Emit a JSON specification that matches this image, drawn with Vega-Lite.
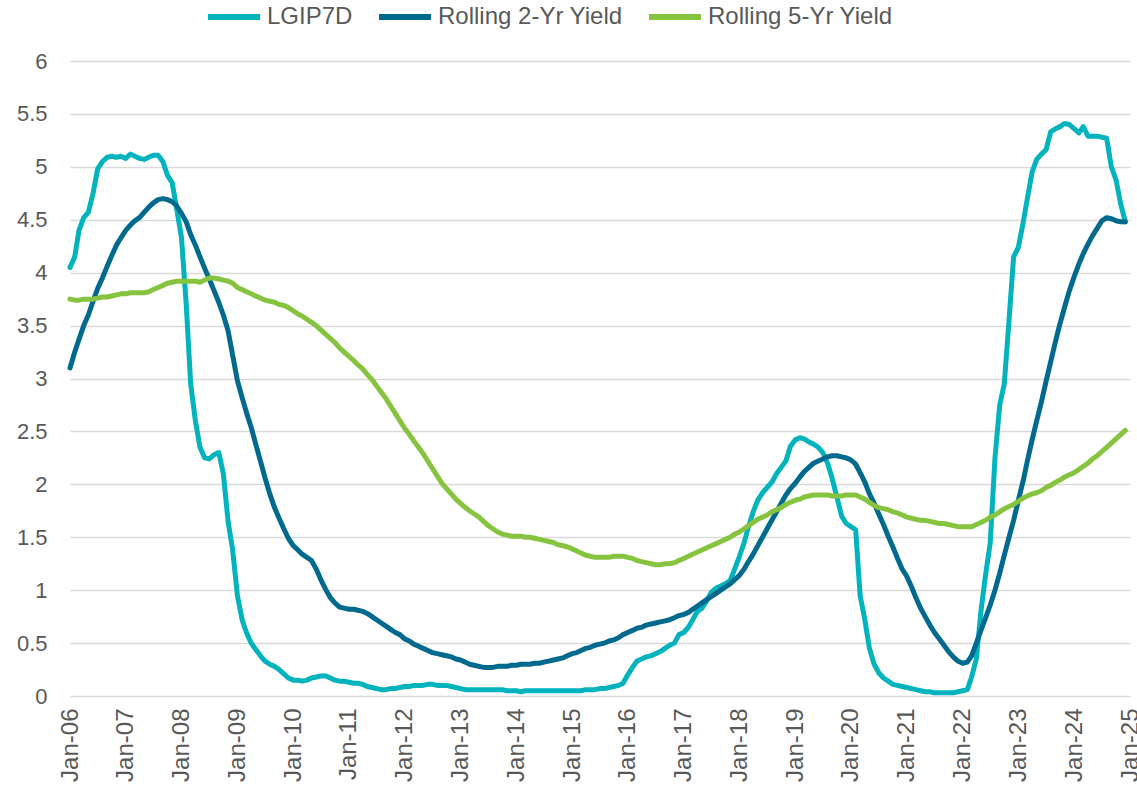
{
"$schema": "https://vega.github.io/schema/vega-lite/v6.json",
"width": 1060, "height": 635,
"autosize": {"type": "none"},
"padding": {"left": 70, "top": 61, "right": 7, "bottom": 96},
"background": "white",
"config": {"view": {"stroke": null}, "font": "Liberation Sans"},
"data": {"format": {"parse": {"d": "date:'%Y-%m'"}}, "values": [
{"d":"2006-01","lgip":4.05,"r2":3.1,"r5":3.75},{"d":"2006-02","lgip":4.15,"r2":3.25,"r5":3.74},{"d":"2006-03","lgip":4.4,"r2":3.37,"r5":3.74},{"d":"2006-04","lgip":4.52,"r2":3.5,"r5":3.75},{"d":"2006-05","lgip":4.57,"r2":3.6,"r5":3.75},{"d":"2006-06","lgip":4.75,"r2":3.73,"r5":3.75},{"d":"2006-07","lgip":4.98,"r2":3.85,"r5":3.76},{"d":"2006-08","lgip":5.05,"r2":3.95,"r5":3.77},{"d":"2006-09","lgip":5.09,"r2":4.06,"r5":3.77},{"d":"2006-10","lgip":5.1,"r2":4.16,"r5":3.78},{"d":"2006-11","lgip":5.09,"r2":4.26,"r5":3.79},{"d":"2006-12","lgip":5.1,"r2":4.33,"r5":3.8},
{"d":"2007-01","lgip":5.08,"r2":4.4,"r5":3.8},{"d":"2007-02","lgip":5.12,"r2":4.45,"r5":3.81},{"d":"2007-03","lgip":5.1,"r2":4.49,"r5":3.81},{"d":"2007-04","lgip":5.08,"r2":4.52,"r5":3.81},{"d":"2007-05","lgip":5.07,"r2":4.57,"r5":3.81},{"d":"2007-06","lgip":5.09,"r2":4.62,"r5":3.82},{"d":"2007-07","lgip":5.11,"r2":4.66,"r5":3.84},{"d":"2007-08","lgip":5.11,"r2":4.69,"r5":3.86},{"d":"2007-09","lgip":5.05,"r2":4.7,"r5":3.88},{"d":"2007-10","lgip":4.92,"r2":4.69,"r5":3.9},{"d":"2007-11","lgip":4.85,"r2":4.67,"r5":3.91},{"d":"2007-12","lgip":4.6,"r2":4.63,"r5":3.92},
{"d":"2008-01","lgip":4.33,"r2":4.56,"r5":3.92},{"d":"2008-02","lgip":3.7,"r2":4.48,"r5":3.92},{"d":"2008-03","lgip":2.95,"r2":4.36,"r5":3.92},{"d":"2008-04","lgip":2.6,"r2":4.26,"r5":3.92},{"d":"2008-05","lgip":2.35,"r2":4.15,"r5":3.91},{"d":"2008-06","lgip":2.25,"r2":4.04,"r5":3.93},{"d":"2008-07","lgip":2.24,"r2":3.94,"r5":3.95},{"d":"2008-08","lgip":2.28,"r2":3.83,"r5":3.95},{"d":"2008-09","lgip":2.3,"r2":3.72,"r5":3.94},{"d":"2008-10","lgip":2.1,"r2":3.6,"r5":3.93},{"d":"2008-11","lgip":1.65,"r2":3.45,"r5":3.92},{"d":"2008-12","lgip":1.38,"r2":3.22,"r5":3.9},
{"d":"2009-01","lgip":0.95,"r2":2.98,"r5":3.86},{"d":"2009-02","lgip":0.72,"r2":2.82,"r5":3.84},{"d":"2009-03","lgip":0.6,"r2":2.68,"r5":3.82},{"d":"2009-04","lgip":0.5,"r2":2.54,"r5":3.8},{"d":"2009-05","lgip":0.44,"r2":2.38,"r5":3.78},{"d":"2009-06","lgip":0.38,"r2":2.22,"r5":3.76},{"d":"2009-07","lgip":0.33,"r2":2.06,"r5":3.74},{"d":"2009-08","lgip":0.3,"r2":1.91,"r5":3.73},{"d":"2009-09","lgip":0.28,"r2":1.78,"r5":3.72},{"d":"2009-10","lgip":0.25,"r2":1.68,"r5":3.7},{"d":"2009-11","lgip":0.21,"r2":1.58,"r5":3.69},{"d":"2009-12","lgip":0.17,"r2":1.49,"r5":3.67},
{"d":"2010-01","lgip":0.15,"r2":1.42,"r5":3.64},{"d":"2010-02","lgip":0.15,"r2":1.38,"r5":3.61},{"d":"2010-03","lgip":0.14,"r2":1.34,"r5":3.59},{"d":"2010-04","lgip":0.15,"r2":1.31,"r5":3.56},{"d":"2010-05","lgip":0.17,"r2":1.28,"r5":3.53},{"d":"2010-06","lgip":0.18,"r2":1.2,"r5":3.5},{"d":"2010-07","lgip":0.19,"r2":1.1,"r5":3.46},{"d":"2010-08","lgip":0.19,"r2":1.01,"r5":3.42},{"d":"2010-09","lgip":0.17,"r2":0.93,"r5":3.38},{"d":"2010-10","lgip":0.15,"r2":0.88,"r5":3.34},{"d":"2010-11","lgip":0.14,"r2":0.84,"r5":3.29},{"d":"2010-12","lgip":0.14,"r2":0.83,"r5":3.25},
{"d":"2011-01","lgip":0.13,"r2":0.82,"r5":3.21},{"d":"2011-02","lgip":0.12,"r2":0.82,"r5":3.17},{"d":"2011-03","lgip":0.12,"r2":0.81,"r5":3.13},{"d":"2011-04","lgip":0.11,"r2":0.8,"r5":3.09},{"d":"2011-05","lgip":0.09,"r2":0.78,"r5":3.04},{"d":"2011-06","lgip":0.08,"r2":0.75,"r5":2.99},{"d":"2011-07","lgip":0.07,"r2":0.72,"r5":2.93},{"d":"2011-08","lgip":0.06,"r2":0.69,"r5":2.87},{"d":"2011-09","lgip":0.06,"r2":0.66,"r5":2.81},{"d":"2011-10","lgip":0.07,"r2":0.63,"r5":2.74},{"d":"2011-11","lgip":0.07,"r2":0.6,"r5":2.67},{"d":"2011-12","lgip":0.08,"r2":0.58,"r5":2.6},
{"d":"2012-01","lgip":0.09,"r2":0.54,"r5":2.53},{"d":"2012-02","lgip":0.09,"r2":0.52,"r5":2.47},{"d":"2012-03","lgip":0.1,"r2":0.49,"r5":2.41},{"d":"2012-04","lgip":0.1,"r2":0.47,"r5":2.35},{"d":"2012-05","lgip":0.1,"r2":0.45,"r5":2.29},{"d":"2012-06","lgip":0.11,"r2":0.43,"r5":2.22},{"d":"2012-07","lgip":0.11,"r2":0.41,"r5":2.15},{"d":"2012-08","lgip":0.1,"r2":0.4,"r5":2.08},{"d":"2012-09","lgip":0.1,"r2":0.39,"r5":2.01},{"d":"2012-10","lgip":0.1,"r2":0.38,"r5":1.96},{"d":"2012-11","lgip":0.09,"r2":0.37,"r5":1.91},{"d":"2012-12","lgip":0.08,"r2":0.35,"r5":1.86},
{"d":"2013-01","lgip":0.07,"r2":0.34,"r5":1.82},{"d":"2013-02","lgip":0.06,"r2":0.32,"r5":1.78},{"d":"2013-03","lgip":0.06,"r2":0.3,"r5":1.75},{"d":"2013-04","lgip":0.06,"r2":0.29,"r5":1.72},{"d":"2013-05","lgip":0.06,"r2":0.28,"r5":1.69},{"d":"2013-06","lgip":0.06,"r2":0.27,"r5":1.65},{"d":"2013-07","lgip":0.06,"r2":0.27,"r5":1.61},{"d":"2013-08","lgip":0.06,"r2":0.27,"r5":1.58},{"d":"2013-09","lgip":0.06,"r2":0.28,"r5":1.55},{"d":"2013-10","lgip":0.06,"r2":0.28,"r5":1.53},{"d":"2013-11","lgip":0.05,"r2":0.28,"r5":1.52},{"d":"2013-12","lgip":0.05,"r2":0.29,"r5":1.51},
{"d":"2014-01","lgip":0.05,"r2":0.29,"r5":1.51},{"d":"2014-02","lgip":0.04,"r2":0.3,"r5":1.51},{"d":"2014-03","lgip":0.05,"r2":0.3,"r5":1.5},{"d":"2014-04","lgip":0.05,"r2":0.3,"r5":1.5},{"d":"2014-05","lgip":0.05,"r2":0.31,"r5":1.49},{"d":"2014-06","lgip":0.05,"r2":0.31,"r5":1.48},{"d":"2014-07","lgip":0.05,"r2":0.32,"r5":1.47},{"d":"2014-08","lgip":0.05,"r2":0.33,"r5":1.46},{"d":"2014-09","lgip":0.05,"r2":0.34,"r5":1.45},{"d":"2014-10","lgip":0.05,"r2":0.35,"r5":1.43},{"d":"2014-11","lgip":0.05,"r2":0.36,"r5":1.42},{"d":"2014-12","lgip":0.05,"r2":0.38,"r5":1.41},
{"d":"2015-01","lgip":0.05,"r2":0.4,"r5":1.39},{"d":"2015-02","lgip":0.05,"r2":0.41,"r5":1.37},{"d":"2015-03","lgip":0.05,"r2":0.43,"r5":1.35},{"d":"2015-04","lgip":0.06,"r2":0.45,"r5":1.33},{"d":"2015-05","lgip":0.06,"r2":0.46,"r5":1.32},{"d":"2015-06","lgip":0.06,"r2":0.48,"r5":1.31},{"d":"2015-07","lgip":0.07,"r2":0.49,"r5":1.31},{"d":"2015-08","lgip":0.07,"r2":0.5,"r5":1.31},{"d":"2015-09","lgip":0.08,"r2":0.52,"r5":1.31},{"d":"2015-10","lgip":0.09,"r2":0.53,"r5":1.32},{"d":"2015-11","lgip":0.1,"r2":0.55,"r5":1.32},{"d":"2015-12","lgip":0.12,"r2":0.58,"r5":1.32},
{"d":"2016-01","lgip":0.2,"r2":0.6,"r5":1.31},{"d":"2016-02","lgip":0.27,"r2":0.62,"r5":1.3},{"d":"2016-03","lgip":0.33,"r2":0.64,"r5":1.28},{"d":"2016-04","lgip":0.35,"r2":0.65,"r5":1.27},{"d":"2016-05","lgip":0.37,"r2":0.67,"r5":1.26},{"d":"2016-06","lgip":0.38,"r2":0.68,"r5":1.25},{"d":"2016-07","lgip":0.4,"r2":0.69,"r5":1.24},{"d":"2016-08","lgip":0.42,"r2":0.7,"r5":1.24},{"d":"2016-09","lgip":0.45,"r2":0.71,"r5":1.25},{"d":"2016-10","lgip":0.48,"r2":0.72,"r5":1.25},{"d":"2016-11","lgip":0.5,"r2":0.74,"r5":1.26},{"d":"2016-12","lgip":0.58,"r2":0.76,"r5":1.28},
{"d":"2017-01","lgip":0.6,"r2":0.77,"r5":1.3},{"d":"2017-02","lgip":0.65,"r2":0.79,"r5":1.32},{"d":"2017-03","lgip":0.72,"r2":0.82,"r5":1.34},{"d":"2017-04","lgip":0.8,"r2":0.85,"r5":1.36},{"d":"2017-05","lgip":0.83,"r2":0.88,"r5":1.38},{"d":"2017-06","lgip":0.9,"r2":0.91,"r5":1.4},{"d":"2017-07","lgip":0.98,"r2":0.94,"r5":1.42},{"d":"2017-08","lgip":1.02,"r2":0.97,"r5":1.44},{"d":"2017-09","lgip":1.04,"r2":1.0,"r5":1.46},{"d":"2017-10","lgip":1.06,"r2":1.03,"r5":1.48},{"d":"2017-11","lgip":1.09,"r2":1.06,"r5":1.5},{"d":"2017-12","lgip":1.2,"r2":1.1,"r5":1.53},
{"d":"2018-01","lgip":1.32,"r2":1.14,"r5":1.55},{"d":"2018-02","lgip":1.45,"r2":1.2,"r5":1.58},{"d":"2018-03","lgip":1.6,"r2":1.27,"r5":1.61},{"d":"2018-04","lgip":1.74,"r2":1.34,"r5":1.64},{"d":"2018-05","lgip":1.85,"r2":1.42,"r5":1.67},{"d":"2018-06","lgip":1.92,"r2":1.5,"r5":1.69},{"d":"2018-07","lgip":1.97,"r2":1.58,"r5":1.71},{"d":"2018-08","lgip":2.02,"r2":1.66,"r5":1.74},{"d":"2018-09","lgip":2.1,"r2":1.74,"r5":1.76},{"d":"2018-10","lgip":2.16,"r2":1.82,"r5":1.78},{"d":"2018-11","lgip":2.22,"r2":1.9,"r5":1.81},{"d":"2018-12","lgip":2.36,"r2":1.96,"r5":1.83},
{"d":"2019-01","lgip":2.42,"r2":2.01,"r5":1.85},{"d":"2019-02","lgip":2.44,"r2":2.07,"r5":1.86},{"d":"2019-03","lgip":2.43,"r2":2.12,"r5":1.88},{"d":"2019-04","lgip":2.4,"r2":2.16,"r5":1.89},{"d":"2019-05","lgip":2.38,"r2":2.2,"r5":1.9},{"d":"2019-06","lgip":2.35,"r2":2.22,"r5":1.9},{"d":"2019-07","lgip":2.3,"r2":2.24,"r5":1.9},{"d":"2019-08","lgip":2.2,"r2":2.26,"r5":1.9},{"d":"2019-09","lgip":2.05,"r2":2.27,"r5":1.89},{"d":"2019-10","lgip":1.88,"r2":2.27,"r5":1.89},{"d":"2019-11","lgip":1.7,"r2":2.26,"r5":1.89},{"d":"2019-12","lgip":1.63,"r2":2.25,"r5":1.9},
{"d":"2020-01","lgip":1.6,"r2":2.23,"r5":1.9},{"d":"2020-02","lgip":1.57,"r2":2.19,"r5":1.9},{"d":"2020-03","lgip":0.95,"r2":2.11,"r5":1.88},{"d":"2020-04","lgip":0.72,"r2":2.02,"r5":1.86},{"d":"2020-05","lgip":0.45,"r2":1.91,"r5":1.83},{"d":"2020-06","lgip":0.3,"r2":1.82,"r5":1.8},{"d":"2020-07","lgip":0.22,"r2":1.72,"r5":1.78},{"d":"2020-08","lgip":0.17,"r2":1.62,"r5":1.77},{"d":"2020-09","lgip":0.14,"r2":1.51,"r5":1.76},{"d":"2020-10","lgip":0.11,"r2":1.41,"r5":1.74},{"d":"2020-11","lgip":0.1,"r2":1.3,"r5":1.73},{"d":"2020-12","lgip":0.09,"r2":1.2,"r5":1.71},
{"d":"2021-01","lgip":0.08,"r2":1.13,"r5":1.69},{"d":"2021-02","lgip":0.07,"r2":1.03,"r5":1.68},{"d":"2021-03","lgip":0.06,"r2":0.93,"r5":1.67},{"d":"2021-04","lgip":0.05,"r2":0.83,"r5":1.66},{"d":"2021-05","lgip":0.04,"r2":0.75,"r5":1.66},{"d":"2021-06","lgip":0.04,"r2":0.67,"r5":1.65},{"d":"2021-07","lgip":0.03,"r2":0.6,"r5":1.64},{"d":"2021-08","lgip":0.03,"r2":0.54,"r5":1.63},{"d":"2021-09","lgip":0.03,"r2":0.48,"r5":1.63},{"d":"2021-10","lgip":0.03,"r2":0.42,"r5":1.62},{"d":"2021-11","lgip":0.03,"r2":0.37,"r5":1.61},{"d":"2021-12","lgip":0.04,"r2":0.33,"r5":1.6},
{"d":"2022-01","lgip":0.05,"r2":0.31,"r5":1.6},{"d":"2022-02","lgip":0.06,"r2":0.32,"r5":1.6},{"d":"2022-03","lgip":0.18,"r2":0.38,"r5":1.6},{"d":"2022-04","lgip":0.35,"r2":0.5,"r5":1.62},{"d":"2022-05","lgip":0.8,"r2":0.62,"r5":1.64},{"d":"2022-06","lgip":1.15,"r2":0.74,"r5":1.66},{"d":"2022-07","lgip":1.45,"r2":0.86,"r5":1.69},{"d":"2022-08","lgip":2.25,"r2":1.0,"r5":1.71},{"d":"2022-09","lgip":2.75,"r2":1.16,"r5":1.74},{"d":"2022-10","lgip":2.95,"r2":1.33,"r5":1.77},{"d":"2022-11","lgip":3.55,"r2":1.5,"r5":1.79},{"d":"2022-12","lgip":4.15,"r2":1.66,"r5":1.81},
{"d":"2023-01","lgip":4.24,"r2":1.85,"r5":1.84},{"d":"2023-02","lgip":4.47,"r2":2.03,"r5":1.87},{"d":"2023-03","lgip":4.7,"r2":2.22,"r5":1.89},{"d":"2023-04","lgip":4.95,"r2":2.42,"r5":1.91},{"d":"2023-05","lgip":5.07,"r2":2.6,"r5":1.92},{"d":"2023-06","lgip":5.12,"r2":2.78,"r5":1.94},{"d":"2023-07","lgip":5.16,"r2":2.97,"r5":1.97},{"d":"2023-08","lgip":5.33,"r2":3.16,"r5":1.99},{"d":"2023-09","lgip":5.36,"r2":3.35,"r5":2.02},{"d":"2023-10","lgip":5.38,"r2":3.52,"r5":2.04},{"d":"2023-11","lgip":5.41,"r2":3.68,"r5":2.07},{"d":"2023-12","lgip":5.4,"r2":3.83,"r5":2.09},
{"d":"2024-01","lgip":5.36,"r2":3.96,"r5":2.11},{"d":"2024-02","lgip":5.32,"r2":4.08,"r5":2.14},{"d":"2024-03","lgip":5.38,"r2":4.18,"r5":2.17},{"d":"2024-04","lgip":5.29,"r2":4.27,"r5":2.2},{"d":"2024-05","lgip":5.29,"r2":4.35,"r5":2.24},{"d":"2024-06","lgip":5.29,"r2":4.42,"r5":2.27},{"d":"2024-07","lgip":5.28,"r2":4.49,"r5":2.31},{"d":"2024-08","lgip":5.27,"r2":4.52,"r5":2.35},{"d":"2024-09","lgip":5.0,"r2":4.51,"r5":2.39},{"d":"2024-10","lgip":4.88,"r2":4.49,"r5":2.43},{"d":"2024-11","lgip":4.65,"r2":4.48,"r5":2.47},{"d":"2024-12","lgip":4.48,"r2":4.48,"r5":2.51}
]},
"transform": [{"fold": ["lgip", "r2", "r5"], "as": ["series", "value"]}],
"mark": {"type": "line", "strokeWidth": 5, "strokeCap": "round", "strokeJoin": "round"},
"encoding": {
  "x": {"field": "d", "type": "temporal",
    "scale": {"domain": [{"year": 2006, "month": 1, "date": 1}, {"year": 2025, "month": 1, "date": 1}]},
    "axis": {"title": null, "format": "%b-%y", "tickCount": {"interval": "year", "step": 1}, "labelAngle": 270, "labelFontSize": 24, "labelColor": "#595959", "labelPadding": 12, "grid": false, "domain": false, "ticks": false, "labelOverlap": false, "labelFlush": false, "labelBound": false}},
  "y": {"field": "value", "type": "quantitative",
    "scale": {"domain": [0, 6], "nice": false},
    "axis": {"title": null, "values": [0, 0.5, 1, 1.5, 2, 2.5, 3, 3.5, 4, 4.5, 5, 5.5, 6], "format": "~g", "labelFontSize": 22, "labelColor": "#595959", "labelPadding": 23, "domain": false, "ticks": false, "gridColor": "#d9d9d9", "gridWidth": 1.5}},
  "color": {"field": "series", "type": "nominal",
    "scale": {"domain": ["lgip", "r2", "r5"], "range": ["#00B3BC", "#006A8E", "#86C440"]},
    "legend": {"title": null, "orient": "none", "legendX": 135, "legendY": -73, "direction": "horizontal", "symbolType": "stroke", "symbolSize": 2700, "symbolStrokeWidth": 6, "labelFontSize": 24, "labelColor": "#595959", "labelOffset": 4, "columnPadding": 14, "labelLimit": 400,
      "labelExpr": "datum.value == 'lgip' ? 'LGIP7D' : datum.value == 'r2' ? 'Rolling 2-Yr Yield' : 'Rolling 5-Yr Yield'"}}
}
}
